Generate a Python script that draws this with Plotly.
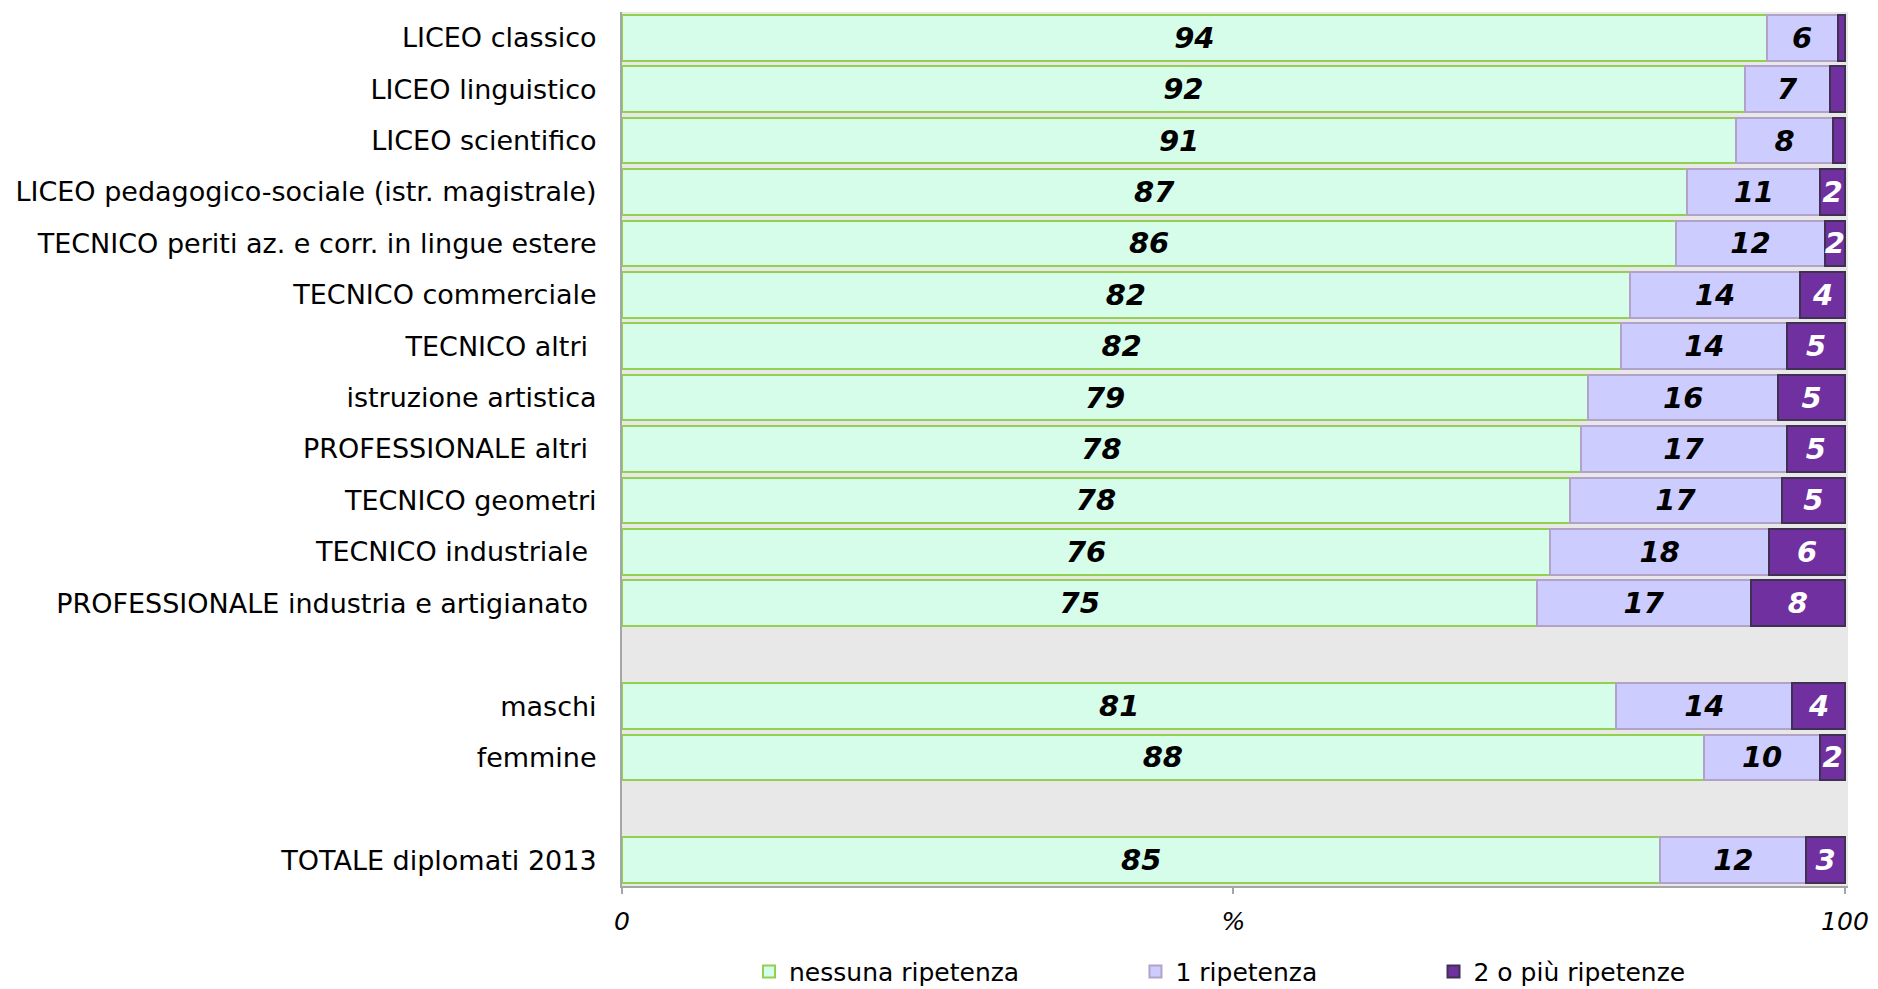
import plotly.graph_objects as go

# ---------------- data ----------------
categories = [
    "LICEO classico",
    "LICEO linguistico",
    "LICEO scientifico",
    "LICEO pedagogico-sociale (istr. magistrale)",
    "TECNICO periti az. e corr. in lingue estere",
    "TECNICO commerciale",
    "TECNICO altri ",
    "istruzione artistica",
    "PROFESSIONALE altri ",
    "TECNICO geometri",
    "TECNICO industriale ",
    "PROFESSIONALE industria e artigianato ",
    "maschi",
    "femmine",
    "TOTALE diplomati 2013",
]
nessuna = [93.6, 91.8, 91.1, 87.1, 86.2, 82.4, 81.7, 79.0, 78.4, 77.5, 75.9, 74.85, 81.3, 88.45, 84.9]
una = [5.8, 7.0, 7.95, 10.9, 12.15, 13.95, 13.6, 15.55, 16.85, 17.35, 17.9, 17.45, 14.4, 9.55, 11.95]
due_piu = [0.6, 1.2, 0.95, 2.0, 1.65, 3.65, 4.7, 5.45, 4.75, 5.15, 6.2, 7.7, 4.3, 2.0, 3.15]

series_names = ["nessuna ripetenza", "1 ripetenza", "2 o più ripetenze"]
gap_after = ["PROFESSIONALE industria e artigianato ", "femmine"]

tick_vals = [0, 50, 100]
tick_text = ["0", "%", "100"]

# ---------------- styling ----------------
fills = ["#d5fde9", "#ccccff", "#7030a0"]
lines = ["#92d050", "#b3a2c7", "#403152"]
text_colors = ["#000000", "#000000", "#ffffff"]

# category order with blank gap rows
order = []
for c in categories:
    order.append(c)
    if c in gap_after:
        order.append("\u200b" * (gap_after.index(c) + 1))

fig = go.Figure()
for vals, name, fc, lc, tc in zip([nessuna, una, due_piu], series_names, fills, lines, text_colors):
    labels = [f"{v:.0f}" if v >= 1.5 else "" for v in vals]
    fig.add_trace(go.Bar(
        y=categories, x=vals, name=name + "\u00a0" * 14, orientation="h",
        marker=dict(color=fc, line=dict(color=lc, width=2)),
        text=labels, textposition="inside", insidetextanchor="middle",
        constraintext="none",
        textfont=dict(family="DejaVu Sans", size=29, color=tc, weight="bold", style="italic"),
        hoverinfo="skip",
    ))

fig.update_layout(
    width=1870, height=981,
    barmode="stack", bargap=0.113,
    paper_bgcolor="white", plot_bgcolor="#e8e8e8",
    margin=dict(l=614, r=30, t=4, b=103, autoexpand=False),
    font=dict(family="DejaVu Sans", size=24, color="#000000"),
    showlegend=True,
    legend=dict(
        orientation="h", x=0.1036, xanchor="left",
        yref="container", y=0.0175, yanchor="middle",
        font=dict(family="DejaVu Sans", size=25, color="#000000"),
        traceorder="normal", itemwidth=30,
    ),
)
fig.update_xaxes(
    range=[0, 100.25], tickvals=tick_vals, ticktext=tick_text,
    showgrid=False, zeroline=False,
    showline=True, linecolor="#a6a6a6", linewidth=2,
    ticks="outside", ticklen=6, tickcolor="#a6a6a6", tickwidth=2,
    tickfont=dict(family="DejaVu Sans", size=25, style="italic"),
    ticklabelstandoff=6,
)
fig.update_yaxes(
    type="category", categoryorder="array", categoryarray=order,
    autorange="reversed", showgrid=False, zeroline=False,
    showline=True, linecolor="#a6a6a6", linewidth=2,
    ticks="", ticklabelstandoff=18,
    tickfont=dict(family="DejaVu Sans", size=27),
)

fig.write_html("out.html")
